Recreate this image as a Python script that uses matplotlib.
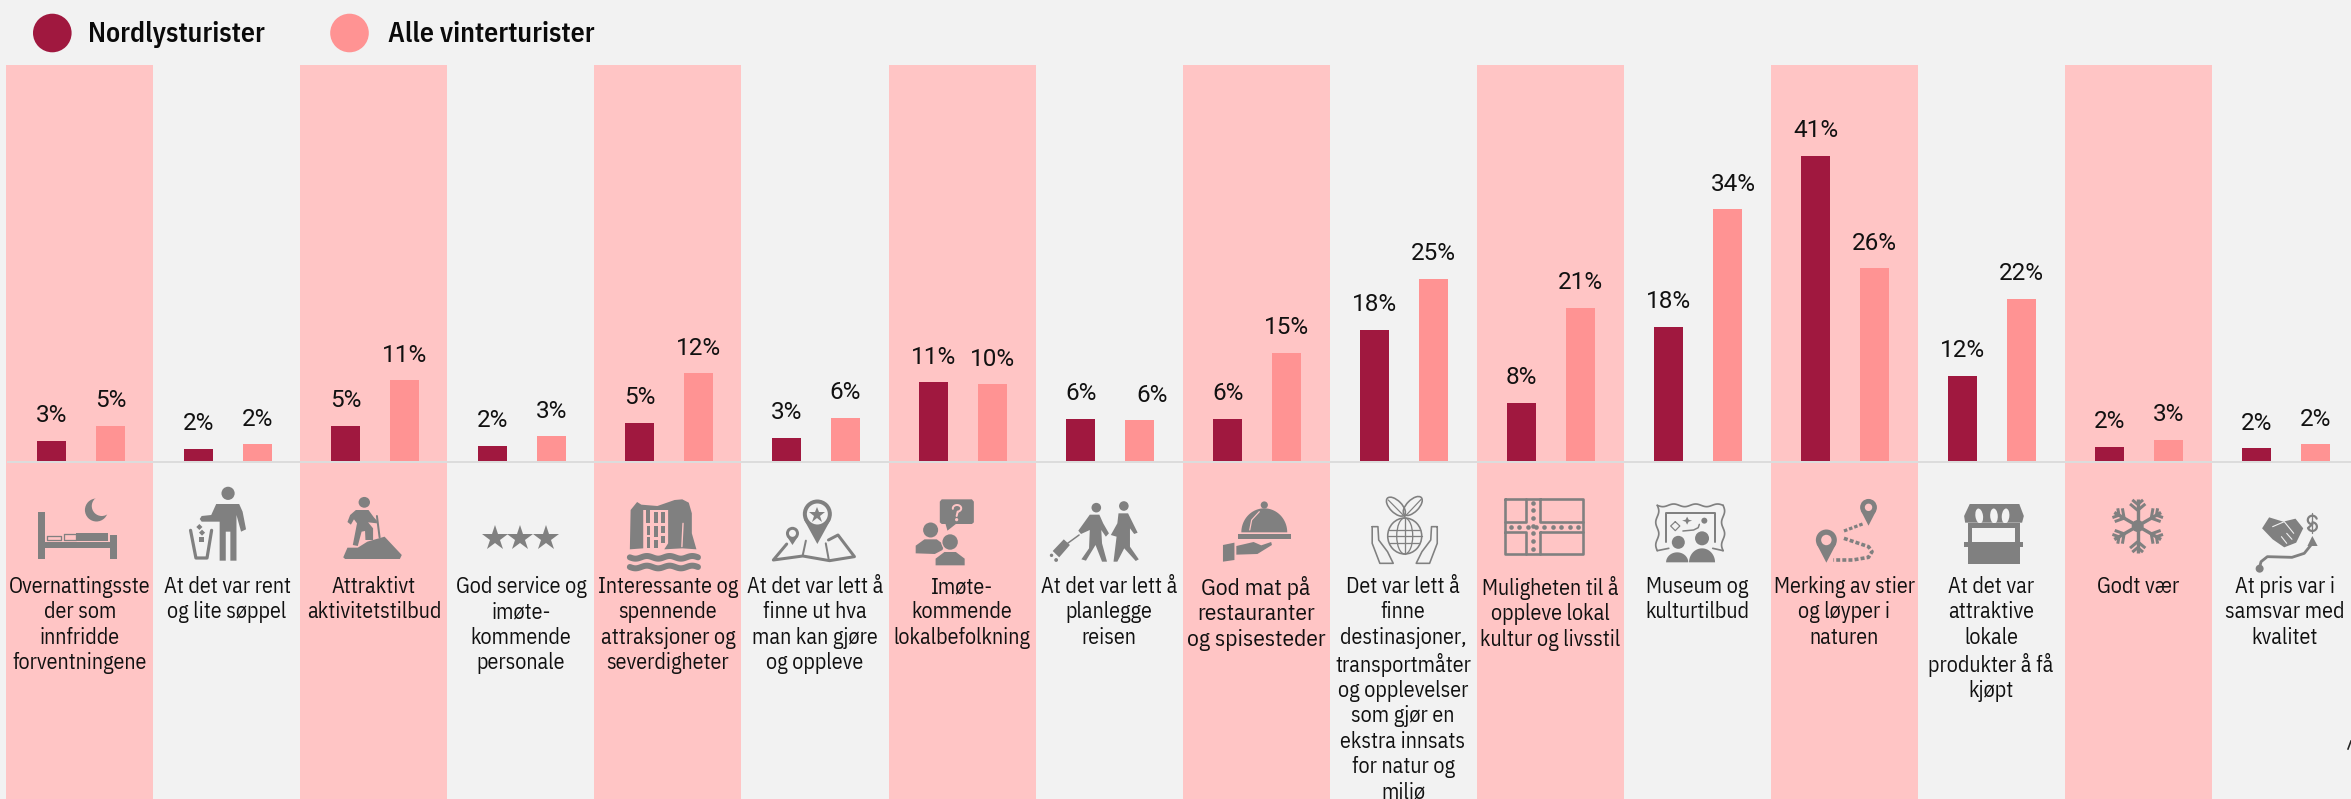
import numpy as np
import matplotlib
matplotlib.use("Agg")
import logging
logging.getLogger("matplotlib.font_manager").setLevel(logging.ERROR)
import matplotlib.pyplot as plt
from matplotlib.patches import Polygon, Ellipse, Rectangle

# ---------- data ----------
categories = [
    "Overnattingsste\nder som\ninnfridde\nforventningene",
    "At det var rent\nog lite søppel",
    "Attraktivt\naktivitetstilbud",
    "God service og\nimøte-\nkommende\npersonale",
    "Interessante og\nspennende\nattraksjoner og\nseverdigheter",
    "At det var lett å\nfinne ut hva\nman kan gjøre\nog oppleve",
    "Imøte-\nkommende\nlokalbefolkning",
    "At det var lett å\nplanlegge\nreisen",
    "God mat på\nrestauranter\nog spisesteder",
    "Det var lett å\nfinne\ndestinasjoner,\ntransportmåter\nog opplevelser\nsom gjør en\nekstra innsats\nfor natur og\nmiljø",
    "Muligheten til å\noppleve lokal\nkultur og livsstil",
    "Museum og\nkulturtilbud",
    "Merking av stier\nog løyper i\nnaturen",
    "At det var\nattraktive\nlokale\nprodukter å få\nkjøpt",
    "Godt vær",
    "At pris var i\nsamsvar med\nkvalitet",
]
nordlys = [2.7, 1.6, 4.7, 2.0, 5.1, 3.1, 10.6, 5.7, 5.7, 17.7, 7.8, 18.1, 41.2, 11.5, 1.9, 1.7]
vinter = [4.7, 2.2, 10.9, 3.3, 11.8, 5.8, 10.3, 5.5, 14.6, 24.6, 20.7, 34.0, 26.0, 21.9, 2.8, 2.2]
nordlys_labels = [3, 2, 5, 2, 5, 3, 11, 6, 6, 18, 8, 18, 41, 12, 2, 2]
vinter_labels = [5, 2, 11, 3, 12, 6, 10, 6, 15, 25, 21, 34, 26, 22, 3, 2]
series_names = ["Nordlysturister", "Alle vinterturister"]

# ---------- style ----------
W, H = 2351, 799
BG, BAND, DARK, LIGHT, GREY = "#F2F2F2", "#FFC5C5", "#A0183F", "#FF9393", "#808080"
CAT_FONT = ["IBM Plex Sans Condensed", "Liberation Sans Narrow", "DejaVu Sans"]
LAB_FONT = ["Roboto", "DejaVu Sans"]
PT = 72 / 100  # one pixel in points

fig = plt.figure(figsize=(W / 100, H / 100), dpi=100, facecolor=BG)

# ---------- chart axes: x in categories, y in percent ----------
ax = fig.add_axes([0, 0, 1, 1])
ax.set_xlim(-81 / 147, (W - 81) / 147)
Y0, SCALE = 460.7, 7.4
ax.set_ylim((Y0 - H) / SCALE, Y0 / SCALE)
ax.axis("off")
top = (Y0 - 65) / SCALE
bottom = (Y0 - H) / SCALE
n = len(categories)
for i in range(0, n, 2):
    d = i * 0.0006
    ax.fill_between([i - 0.51 + d, i + 0.49 + d], bottom, top, color=BAND, lw=0, zorder=1)
x = np.arange(n)
ax.bar(x - 0.2, nordlys, 0.2, color=DARK, zorder=2)
ax.bar(x + 0.2, vinter, 0.2, color=LIGHT, zorder=2)
ax.plot([-0.5, (W - 81) / 147], [-0.22, -0.22], color="#DCDCDC", lw=2 * PT, zorder=3)

label_shift = {(1, 7): 13, (1, 11): 6}
for s, (vals, labs, off) in enumerate([(nordlys, nordlys_labels, -0.2), (vinter, vinter_labels, 0.2)]):
    for i, (v, l) in enumerate(zip(vals, labs)):
        ax.annotate(f"{l}%", xy=(i + off, v),
                    xytext=(label_shift.get((s, i), 0) * PT, 18.5 * PT),
                    textcoords="offset points", ha="center", va="baseline",
                    family=LAB_FONT, fontsize=17.5, color="#111111", zorder=4)

# ---------- overlay axes in pixels ----------
px = fig.add_axes([0, 0, 1, 1])
px.set_xlim(0, W)
px.set_ylim(H, 0)
px.axis("off")
px.patch.set_alpha(0)

# legend
for cx, c, tx, name in [(52.3, DARK, 88, series_names[0]), (349.5, LIGHT, 388, series_names[1])]:
    px.add_patch(Ellipse((cx, 33), 38.6, 38.6, color=c, lw=0))
    px.text(tx, 41.7, name, family=CAT_FONT, weight="semibold", fontsize=20, color="#0A0A0A",
            ha="left", va="baseline")

# category text
for i, c in enumerate(categories):
    px.text(80 + 147 * i, 576, c, family=CAT_FONT, fontsize=16.8 if i == 8 else 15.8,
            color="#111111", ha="center", va="top", linespacing=1.2)

# clipped glyph at right edge
px.plot([2348, 2351], [749, 741], color="#222222", lw=1.6 * PT)


# ---------- icon helpers (coordinates as read on 3x crops of y 480+) ----------
def zp(ox, sx, pts):
    return [(ox + a / sx, 480 + b / 3) for a, b in pts]


def poly(ox, sx, pts, c=GREY):
    px.add_patch(Polygon(zp(ox, sx, pts), closed=True, fc=c, ec="none", zorder=6))


def ell(ox, sx, cx, cy, rx, ry=None, c=GREY, ec="none", lw=0, angle=0):
    ry = rx if ry is None else ry
    px.add_patch(Ellipse(zp(ox, sx, [(cx, cy)])[0], 2 * rx, 2 * ry, angle=angle, fc=c, ec=ec, lw=lw * PT, zorder=6))


def line(ox, sx, pts, lw=2, c=GREY, ls="-"):
    p = np.array(zp(ox, sx, pts))
    px.plot(p[:, 0], p[:, 1], color=c, lw=lw * PT, ls=ls, zorder=6, solid_capstyle="round")


def rect(ox, sx, a, b, c_, d, c=GREY):
    poly(ox, sx, [(a, b), (c_, b), (c_, d), (a, d)], c)


def pin(ox, sx, cx, cy, r, tip, hole, hc):
    ell(ox, sx, cx, cy, r)
    X, Y = zp(ox, sx, [(cx, cy)])[0]
    _, T = zp(ox, sx, [(cx, tip)])[0]
    px.add_patch(Polygon([(X - r * 0.93, Y + r * 0.37), (X + r * 0.93, Y + r * 0.37), (X, T)], fc=GREY, ec="none", zorder=6))
    ell(ox, sx, cx, cy, hole, c=hc)


S1 = 1568 / 600
S2 = 1568 / 551

# 1 bed
rect(0, S1, 99, 95, 118, 238)
rect(0, S1, 288, 165, 306, 238)
rect(0, S1, 118, 187, 288, 205)
rect(0, S1, 198, 160, 283, 183)
ell(0, S1, 252, 90, 11.5)
ell(0, S1, 266, 78, 10, c=BAND)
line(0, S1, [(168, 163), (198, 163), (198, 181), (168, 181), (168, 163)], 1.3)
line(0, S1, [(124, 167), (160, 167), (160, 179), (124, 179), (124, 167)], 1.3)

# 2 person and bin
ell(0, S1, 596, 40, 6.6)
poly(0, S1, [(565, 72), (625, 72), (634, 95), (643, 148), (630, 155), (618, 105), (618, 242), (602, 242), (602, 155),
             (590, 155), (590, 242), (574, 242), (574, 125), (527, 125), (522, 117), (527, 108), (552, 105)])
line(0, S1, [(498, 151), (512, 234), (541, 234), (553, 151)], 3.2)
poly(0, S1, [(521, 132), (529, 141), (521, 150), (513, 141)])
poly(0, S1, [(528, 149), (536, 158), (528, 167), (520, 158)])
rect(0, S1, 520, 171, 534, 186)

# 3 hiker
ell(0, S1, 952, 67, 5.7, 5.4)
poly(0, S1, [(930, 90), (963, 90), (977, 112), (985, 122), (985, 130), (962, 127), (975, 145), (975, 180), (955, 180),
             (954, 153), (945, 155), (935, 198), (922, 195), (933, 130), (925, 118), (917, 134), (908, 126), (915, 105)])
line(0, S1, [(985, 108), (992, 172)], 2)
poly(0, S1, [(897, 232), (908, 203), (935, 203), (960, 185), (1005, 170), (1050, 225), (1045, 237), (902, 237)])

# 4 stars
px.plot([a / S1 for a in (1294, 1360, 1427)], [480 + 175 / 3] * 3, ls="none", marker="*", ms=27 * PT,
        color=GREY, mew=0, zorder=6)

# 5 waterfall
poly(600, S1, [(80, 90), (97, 66), (108, 74), (150, 78), (195, 60), (215, 58), (232, 68), (240, 100), (240, 160), (252, 208),
               (215, 205), (168, 208), (178, 190), (178, 90), (113, 90), (113, 205), (78, 208)])
line(600, S1, [(217, 130), (214, 200)], 1.4, BAND)
rect(600, S1, 120, 90, 130, 130)
rect(600, S1, 142, 95, 152, 130)
rect(600, S1, 160, 95, 169, 130)
rect(600, S1, 122, 137, 131, 165)
rect(600, S1, 142, 138, 152, 170)
rect(600, S1, 160, 138, 169, 160)
rect(600, S1, 122, 172, 131, 205)
rect(600, S1, 142, 180, 152, 205)
rect(600, S1, 160, 167, 169, 190)
xs = np.linspace(78, 256, 60)
line(600, S1, list(zip(xs, 232 + 4 * np.sin((xs - 78) / 178 * 3 * 2 * np.pi))), 6)
line(600, S1, list(zip(xs, 261 + 4 * np.sin((xs - 78) / 178 * 3 * 2 * np.pi))), 6)

# 6 map with pins
pin(600, S1, 568, 102, 14.5, 192, 10.5, BG)
px.plot([600 + 568 / S1], [480 + 106 / 3], marker="*", ms=17 * PT, color=GREY, mew=0, zorder=7)
pin(600, S1, 503, 160, 6.5, 195, 3.5, BG)
line(600, S1, [(488, 192), (453, 240), (530, 228), (600, 242), (665, 230), (622, 165), (597, 180)], 3)
line(600, S1, [(538, 182), (530, 225)], 2)
line(600, S1, [(590, 190), (598, 240)], 2)

# 7 people and question
poly(600, S1, [(893, 58), (972, 58), (977, 65), (977, 127), (972, 132), (930, 132), (908, 152), (903, 132), (893, 132), (888, 127), (888, 65)])
ts = np.linspace(np.pi * 1.05, -np.pi * 0.45, 20)
line(600, S1, list(zip(933 + 11 * np.cos(ts), 85 - 10 * np.sin(ts))) + [(932, 108)], 2, BAND)
ell(600, S1, 932, 119, 1.6, c=BAND)
ell(600, S1, 864, 150, 7.5)
poly(600, S1, [(825, 220), (825, 197), (848, 178), (880, 178), (900, 195), (895, 210), (875, 222)])
ell(600, S1, 915, 186, 9, c=BAND)
ell(600, S1, 915, 186, 7.7)
poly(600, S1, [(870, 260), (870, 233), (898, 210), (935, 210), (960, 233), (960, 260)], BAND)
poly(600, S1, [(877, 256), (877, 236), (900, 216), (930, 216), (953, 236), (953, 256)])

# 8 walkers with suitcase
ell(600, S1, 1297, 83, 4.8)
poly(600, S1, [(1280, 104), (1305, 104), (1315, 130), (1330, 160), (1322, 170), (1310, 150), (1312, 190), (1325, 245), (1312, 245),
               (1295, 195), (1270, 242), (1258, 238), (1278, 205), (1280, 150), (1257, 162), (1250, 152)])
ell(600, S1, 1369, 78, 4.8)
poly(600, S1, [(1355, 100), (1380, 100), (1405, 158), (1396, 162), (1385, 145), (1385, 200), (1408, 238), (1400, 243), (1370, 205),
               (1352, 245), (1342, 245), (1350, 170), (1335, 165), (1352, 130)])
poly(600, S1, [(1212, 178), (1228, 195), (1200, 232), (1183, 213)])
line(600, S1, [(1222, 190), (1252, 165)], 1.5)
ell(600, S1, 1180, 226, 1.7)
ell(600, S1, 1192, 240, 1.9)

# 9 cloche and hand
ts = np.linspace(0, np.pi, 40)
poly(1200, S1, list(zip(168 + 60 * np.cos(ts), 157 - 72 * np.sin(ts))))
ell(1200, S1, 168, 75, 3.6)
line(1200, S1, [(130, 150), (135, 120), (155, 95)], 1.2, BAND)
rect(1200, S1, 98, 162, 238, 177)
poly(1200, S1, [(60, 195), (90, 188), (90, 240), (60, 245)])
poly(1200, S1, [(95, 198), (140, 186), (160, 196), (186, 186), (188, 195), (150, 222), (95, 224)])

# 10 globe in hands
ell(1200, S1, 512, 80, 12, 6, c="none", ec=GREY, lw=1.6, angle=45)
ell(1200, S1, 556, 78, 12, 6, c="none", ec=GREY, lw=1.6, angle=-45)
line(1200, S1, [(492, 60), (535, 110), (578, 58)], 1.2)
ell(1200, S1, 535, 168, 17, 18, c="none", ec=GREY, lw=1.6)
ell(1200, S1, 535, 168, 8, 18, c="none", ec=GREY, lw=1.3)
line(1200, S1, [(535, 115), (535, 222)], 1.3)
for yy, h in [(150, 40), (168, 44), (188, 38)]:
    line(1200, S1, [(535 - h, yy), (535 + h, yy)], 1.3)
for sgn in (-1, 1):
    line(1200, S1, [(535 + sgn * 85, 140), (535 + sgn * 70, 140), (535 + sgn * 68, 180), (535 + sgn * 45, 215), (535 + sgn * 30, 250),
                    (535 + sgn * 65, 250), (535 + sgn * 85, 190), (535 + sgn * 85, 140)], 1.6)

# 11 flag
for a, b, c_, d in [(797, 57, 853, 125), (888, 57, 1000, 125), (797, 155, 853, 222), (888, 155, 1000, 222)]:
    line(1200, S1, [(a, b), (c_, b), (c_, d), (a, d), (a, b)], 2.6)
xd = np.arange(812, 995, 22)
yd = np.arange(68, 220, 23)
p1 = zp(1200, S1, [(v, 140) for v in xd]) + zp(1200, S1, [(870, v) for v in yd])
px.plot([q[0] for q in p1], [q[1] for q in p1], ls="none", marker="o", ms=4.6 * PT, mfc=GREY, mew=0, zorder=6)
line(1200, S1, [(797, 125), (797, 155)], 2.6)
line(1200, S1, [(1000, 125), (1000, 155)], 2.6)
line(1200, S1, [(853, 57), (888, 57)], 2.6)
line(1200, S1, [(853, 222), (888, 222)], 2.6)

# 12 museum frame
xs = np.linspace(1195, 1367, 60)
line(1200, S1, list(zip(xs, 76 + 4 * np.sin((xs - 1195) / 172 * 3 * 2 * np.pi))), 1.7)
ys = np.linspace(76, 212, 50)
line(1200, S1, list(zip(1195 + 4 * np.sin((ys - 76) / 136 * 4 * np.pi), ys)), 1.7)
line(1200, S1, list(zip(1367 + 4 * np.sin((ys - 76) / 136 * 4 * np.pi), ys)), 1.7)
line(1200, S1, [(1195, 212), (1225, 205)], 1.7)
line(1200, S1, [(1340, 205), (1367, 212)], 1.7)
line(1200, S1, [(1217, 185), (1217, 100), (1345, 100), (1345, 185)], 2)
line(1200, S1, [(1242, 125), (1254, 138), (1242, 152), (1230, 138), (1242, 125)], 1.2)
poly(1200, S1, [(1273, 110), (1277, 119), (1286, 122), (1277, 125), (1273, 134), (1269, 125), (1260, 122), (1269, 119)])
ell(1200, S1, 1318, 122, 3)
line(1200, S1, [(1262, 153), (1290, 150), (1302, 143), (1305, 133)], 1.5)
ell(1200, S1, 1250, 187, 6.5)
ell(1200, S1, 1312, 175, 7)
ts = np.linspace(0, np.pi, 30)
poly(1200, S1, list(zip(1247 + 29 * np.cos(ts), 247 - 30 * np.sin(ts))))
poly(1200, S1, list(zip(1312 + 34 * np.cos(ts), 247 - 42 * np.sin(ts))))

# 13 route
pin(1800, S2, 195, 82, 8.4, 137, 3.7, BAND)
pin(1800, S2, 75, 180, 10.5, 248, 5.2, BAND)
line(1800, S2, [(178, 132), (120, 155)], 3.2, ls=(0, (1.1, 0.6)))
line(1800, S2, [(125, 175), (195, 200), (205, 215), (195, 232), (150, 240), (95, 240)], 3.6, ls=(0, (1.1, 0.6)))

# 14 market stall
poly(1800, S2, [(483, 72), (624, 72), (637, 108), (632, 128), (612, 128), (605, 128), (592, 128), (470, 128), (467, 108)])
for cx_, a_ in [(510, -8), (552, -3), (585, 5)]:
    ell(1800, S2, cx_, 108, 3.8, 7.5, c=BG, angle=a_)
rect(1800, S2, 477, 128, 490, 190)
rect(1800, S2, 613, 128, 626, 190)
rect(1800, S2, 477, 128, 626, 145)
rect(1800, S2, 467, 186, 636, 200)
rect(1800, S2, 477, 200, 626, 253)

# 15 snowflake
cx_, cy_ = 1800 + 961 / S2, 480 + 138 / 3
for a in np.deg2rad(np.arange(30, 390, 60)):
    u = np.array([np.cos(a), -np.sin(a)])
    c0 = np.array([cx_, cy_])
    px.plot(*zip(c0, c0 + 27 * u), color=GREY, lw=3.4 * PT, zorder=6, solid_capstyle="butt")
    for d, ln in [(0.58, 10), (0.8, 7)]:
        for sg in (-1, 1):
            b = a + sg * np.deg2rad(50)
            v = np.array([np.cos(b), -np.sin(b)])
            px.plot(*zip(c0 + d * 27 * u, c0 + d * 27 * u + ln * v), color=GREY, lw=3 * PT, zorder=6, solid_capstyle="butt")
px.add_patch(Ellipse((cx_, cy_), 12, 12, color=GREY, lw=0, zorder=6))

# 16 handshake, price and arrow
poly(1800, S2, [(1315, 145), (1335, 112), (1375, 125), (1410, 116), (1432, 145), (1412, 188), (1378, 202), (1345, 178)])
line(1800, S2, [(1345, 140), (1378, 125), (1405, 160)], 1.1, BG)
line(1800, S2, [(1370, 170), (1385, 190)], 1.1, BG)
line(1800, S2, [(1385, 160), (1400, 178)], 1.1, BG)
line(1800, S2, [(1458, 98), (1458, 158)], 1.3)
ts = np.linspace(0.1 * np.pi, 1.5 * np.pi, 15)
line(1800, S2, list(zip(1458 + 13 * np.cos(ts), 120 - 13 * np.sin(ts))) + list(zip(1458 - 13 * np.cos(ts), 140 + 13 * np.sin(ts))), 2.2)
line(1800, S2, [(1307, 265), (1312, 245), (1330, 230), (1400, 232), (1435, 220), (1458, 190)], 2.8)
poly(1800, S2, [(1458, 168), (1473, 198), (1444, 198)])
ell(1800, S2, 1308, 266, 4)

fig.savefig("out.png", facecolor=BG)
